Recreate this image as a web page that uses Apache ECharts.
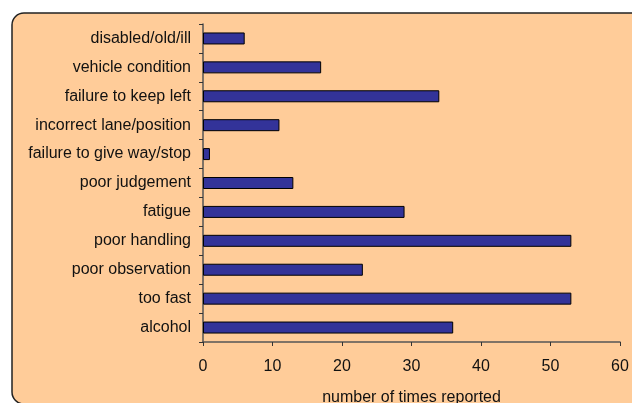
<!DOCTYPE html>
<html>
<head>
<meta charset="utf-8">
<script src="https://cdn.jsdelivr.net/npm/echarts@6/dist/echarts.min.js"></script>
<style>
  html, body { margin: 0; padding: 0; background: #ffffff; }
  #chart { width: 632px; height: 403px; }
</style>
</head>
<body>
<div id="chart"></div>
<script>
// Reported contributing factors, listed top to bottom
const categories = [
  'disabled/old/ill',
  'vehicle condition',
  'failure to keep left',
  'incorrect lane/position',
  'failure to give way/stop',
  'poor judgement',
  'fatigue',
  'poor handling',
  'poor observation',
  'too fast',
  'alcohol'
];
const timesReported = [6, 17, 34, 11, 1, 13, 29, 53, 23, 53, 36];
const xTicks = [0, 10, 20, 30, 40, 50, 60];
const xAxisTitle = 'number of times reported';

const chart = echarts.init(document.getElementById('chart'), null, { renderer: 'canvas' });

const font = 'Liberation Sans, Arial, sans-serif';

chart.setOption({
  animation: false,
  backgroundColor: '#ffffff',
  graphic: [{
    type: 'rect',
    z: -10,
    shape: { x: 12, y: 13, width: 640, height: 391, r: 12 },
    style: { fill: '#FFCC99', stroke: '#222222', lineWidth: 1.5 }
  }],
  grid: { left: 203, right: 12, top: 24, bottom: 61, outerBoundsMode: 'none', containLabel: false },
  xAxis: {
    type: 'value',
    min: xTicks[0],
    max: xTicks[xTicks.length - 1],
    interval: xTicks[1] - xTicks[0],
    name: xAxisTitle,
    nameLocation: 'middle',
    nameGap: 48,
    nameTextStyle: { color: '#111', fontSize: 16, fontFamily: font },
    axisLine: { show: true, lineStyle: { color: '#555', width: 1.5 } },
    axisTick: { show: true, inside: false, length: 4, lineStyle: { color: '#333', width: 1 } },
    axisLabel: { color: '#111', fontSize: 16, fontFamily: font, margin: 17 },
    splitLine: { show: false }
  },
  yAxis: {
    type: 'category',
    data: categories,
    inverse: true,
    axisLine: { show: true, lineStyle: { color: '#555', width: 1.5 } },
    axisTick: { show: true, inside: false, length: 4, alignWithLabel: false, lineStyle: { color: '#333', width: 1 } },
    axisLabel: { color: '#111', fontSize: 16, fontFamily: font, margin: 12 }
  },
  series: [{
    type: 'bar',
    data: timesReported,
    barWidth: 12,
    itemStyle: { color: '#333399', borderColor: '#000000', borderWidth: 1 }
  }]
});
</script>
</body>
</html>
